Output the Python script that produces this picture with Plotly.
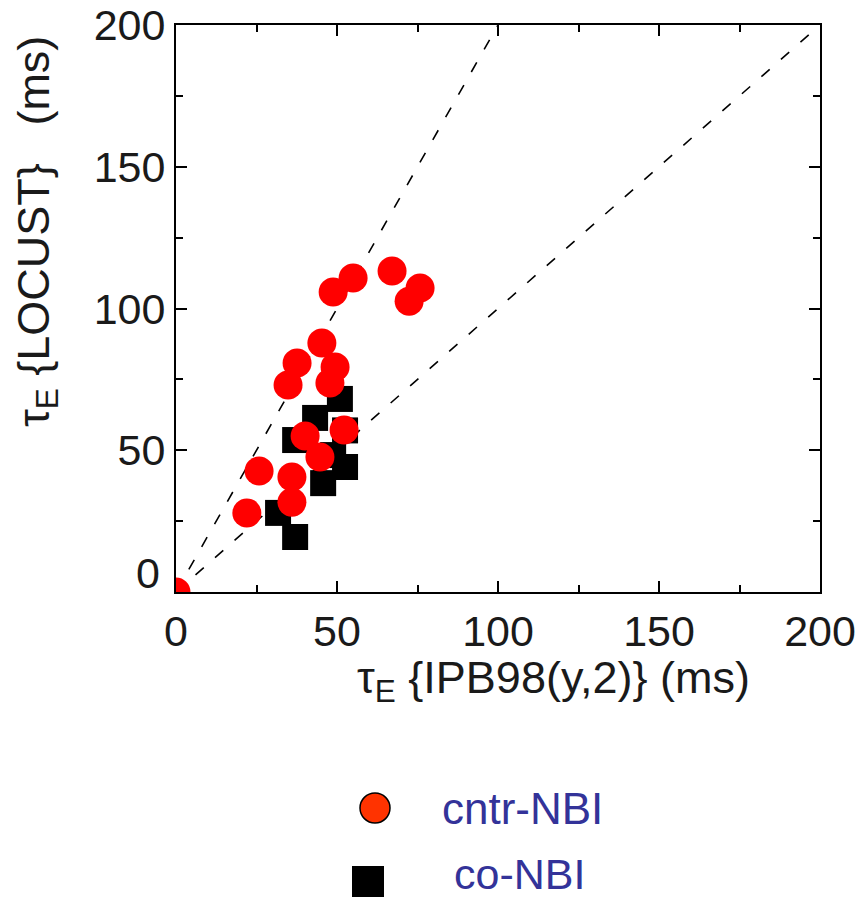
import plotly.graph_objects as go

# cntr-NBI shots: confinement time from IPB98(y,2) scaling vs LOCUST (ms)
cntr_ipb = [0.0, 48.8, 55.0, 67.1, 72.4, 75.8, 45.3, 37.6, 34.8, 49.4, 47.8,
            52.2, 40.1, 44.7, 25.8, 36.0, 36.0, 22.0]
cntr_locust = [0.0, 105.8, 110.8, 113.2, 102.6, 107.2, 87.8, 80.8, 73.0, 79.4, 73.7,
               57.1, 55.0, 47.6, 42.7, 40.6, 31.7, 27.9]

# co-NBI shots
co_ipb = [50.9, 43.2, 37.0, 52.5, 52.5, 48.8, 45.7, 31.7, 37.0]
co_locust = [68.1, 61.4, 53.6, 57.0, 44.1, 48.3, 38.4, 27.9, 19.4]

# reference lines tau_LOCUST = 2 * tau_IPB and tau_LOCUST = tau_IPB
line2_x = [0, 100]
line2_y = [0, 200]
line1_x = [0, 200]
line1_y = [0, 200]

tick_vals = [0, 50, 100, 150, 200]
x_tick_text = ["0", "50", "100", "150", "200"]
# the y-axis zero label is lifted clear of the x-axis zero, drawn separately
y_tick_text = ["", "50", "100", "150", "200"]

FONT = "Liberation Sans, Arial, Helvetica, sans-serif"
TXT = "#1a1a1a"
LEG_COLOR = "#333399"

fig = go.Figure()

for lx, ly in ((line2_x, line2_y), (line1_x, line1_y)):
    fig.add_trace(go.Scatter(
        x=lx, y=ly, mode="lines",
        line=dict(color="black", width=1.6, dash="11px,15px"),
        hoverinfo="skip", showlegend=False,
    ))

fig.add_trace(go.Scatter(
    x=co_ipb, y=co_locust, mode="markers", name="co-NBI",
    marker=dict(symbol="square", size=26, color="black", line=dict(width=0)),
    showlegend=False,
))
fig.add_trace(go.Scatter(
    x=cntr_ipb, y=cntr_locust, mode="markers", name="cntr-NBI",
    marker=dict(symbol="circle", size=29, color="#ff0000", line=dict(width=0)),
    showlegend=False,
))

axis_common = dict(
    range=[0, 200], tickvals=tick_vals,
    ticks="inside", ticklen=11, tickwidth=1.5, tickcolor="black",
    minor=dict(ticks="inside", ticklen=7, tickwidth=1.5, tickcolor="black", dtick=25, tick0=0),
    showline=True, linecolor="black", linewidth=2, mirror="allticks",
    showgrid=False, zeroline=False, automargin=False,
    tickfont=dict(family=FONT, size=43, color=TXT),
)

fig.update_xaxes(**axis_common, ticktext=x_tick_text)
fig.update_yaxes(**axis_common, ticktext=y_tick_text)

# pixel helpers for the plot frame
W0, W1, H0, H1 = 176, 820, 25, 592
def px(xp):
    return (xp - W0) / (W1 - W0)
def py(yp):
    return (H1 - yp) / (H1 - H0)

# axis titles
fig.add_annotation(text="τ<sub>E</sub> {IPB98(y,2)} (ms)", xref="paper", yref="paper",
                   x=px(553), y=py(680), xanchor="center", yanchor="middle",
                   showarrow=False, font=dict(family=FONT, size=45, color=TXT))
fig.add_annotation(text="τ<sub>E</sub> {LOCUST}\u00a0\u00a0 (ms)", xref="paper", yref="paper",
                   x=px(36), y=py(232), xanchor="center", yanchor="middle", textangle=-90,
                   showarrow=False, font=dict(family=FONT, size=45, color=TXT))

fig.add_annotation(text="0", xref="paper", yref="paper",
                   x=px(162), y=py(573), xanchor="right", yanchor="middle",
                   showarrow=False, font=dict(family=FONT, size=43, color=TXT))

# legend swatches and labels below the plot
fig.add_shape(type="circle", xref="paper", yref="paper",
              x0=px(360), x1=px(390), y0=py(823), y1=py(793),
              fillcolor="#ff3300", line=dict(color="black", width=1.5))
fig.add_shape(type="rect", xref="paper", yref="paper",
              x0=px(352), x1=px(384), y0=py(897), y1=py(866),
              fillcolor="black", line=dict(width=0))
fig.add_annotation(text="cntr-NBI", xref="paper", yref="paper",
                   x=px(440), y=py(808), xanchor="left", yanchor="middle",
                   showarrow=False, font=dict(family=FONT, size=44, color=LEG_COLOR))
fig.add_annotation(text="co-NBI", xref="paper", yref="paper",
                   x=px(452), y=py(874), xanchor="left", yanchor="middle",
                   showarrow=False, font=dict(family=FONT, size=43, color=LEG_COLOR))

fig.update_layout(
    width=863, height=897,
    margin=dict(l=W0, r=863 - W1, t=H0, b=897 - H1),
    plot_bgcolor="white", paper_bgcolor="white",
    showlegend=False,
)

fig.write_html("out.html")
